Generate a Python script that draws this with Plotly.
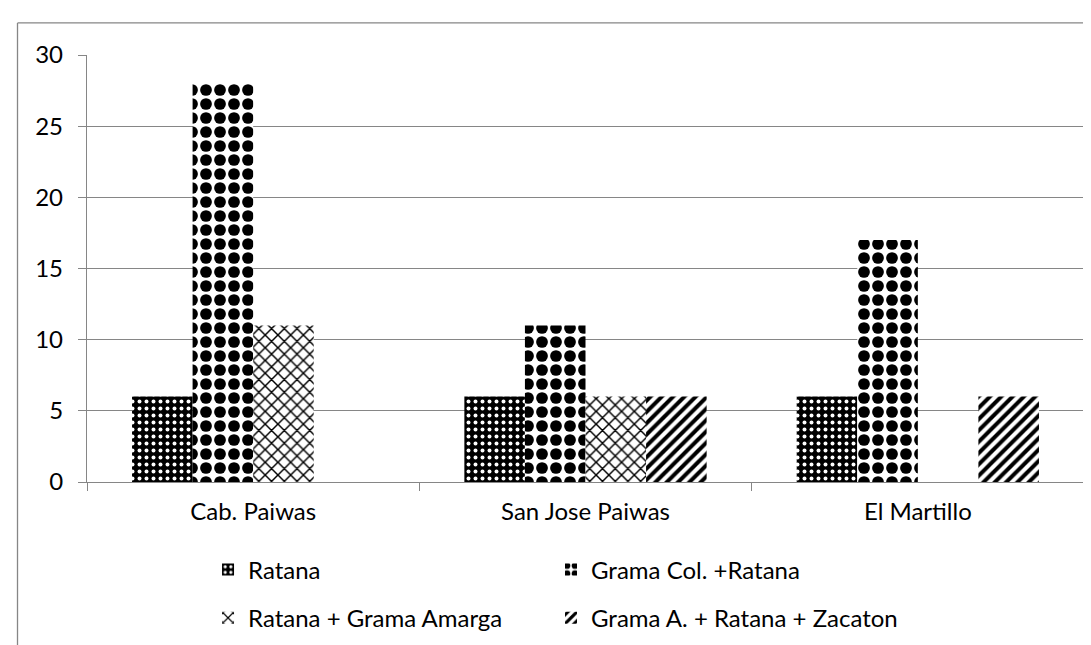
import plotly.graph_objects as go

categories = ["Cab. Paiwas", "San Jose Paiwas", "El Martillo"]
series_names = ["Ratana", "Grama Col. +Ratana", "Ratana + Grama Amarga", "Grama A. + Ratana + Zacaton"]
ratana = [6, 6, 6]
grama_col_ratana = [28, 11, 17]
ratana_grama_amarga = [11, 6, 0]
grama_ratana_zacaton = [0, 6, 6]
y_ticks = [0, 5, 10, 15, 20, 25, 30]

values = [ratana, grama_col_ratana, ratana_grama_amarga, grama_ratana_zacaton]
patterns = [
    dict(shape=".", fgcolor="white", bgcolor="black", size=7, solidity=0.25, fgopacity=1),
    dict(shape=".", fgcolor="black", bgcolor="white", size=14, solidity=0.55, fgopacity=1),
    dict(shape="x", fgcolor="black", bgcolor="white", size=9, solidity=0.3, fgopacity=1),
    dict(shape="/", fgcolor="black", bgcolor="white", size=8, solidity=0.5, fgopacity=1),
]
legend_ids = ["legend", "legend2", "legend3", "legend4"]

FONT = "Lato, 'Liberation Sans', sans-serif"
GRID = "#868686"

fig = go.Figure()
for name, vals, pat, lg in zip(series_names, values, patterns, legend_ids):
    fig.add_trace(go.Bar(
        name=name, x=categories, y=vals,
        marker=dict(color="black", pattern=pat, line=dict(width=0)),
        legend=lg, showlegend=True,
    ))

legend_style = dict(orientation="h", xanchor="left", yanchor="middle",
                    font=dict(size=24, family=FONT, color="black"), bgcolor="rgba(0,0,0,0)")
col_x = [0.1214, 0.4654]
row_y = [-0.206, -0.319]

fig.update_layout(
    width=1091, height=645,
    margin=dict(l=79, r=15, t=47, b=166),
    showlegend=True,
    paper_bgcolor="white", plot_bgcolor="white",
    barmode="group", bargap=0.271, bargroupgap=0,
    font=dict(family=FONT, size=24, color="black"),
    xaxis=dict(
        type="category", showgrid=False, showline=True, linecolor=GRID, linewidth=1.3,
        ticks="outside", tickson="boundaries", ticklen=8, tickcolor=GRID, tickwidth=1.3,
        ticklabelstandoff=8,
    ),
    yaxis=dict(
        range=[0, 30], tickvals=y_ticks, showgrid=True, gridcolor=GRID, gridwidth=1.3,
        showline=True, linecolor=GRID, linewidth=1.3, zeroline=False,
        ticks="outside", ticklen=8, tickcolor=GRID, tickwidth=1.3, ticklabelstandoff=10,
    ),
    legend=dict(x=col_x[0], y=row_y[0], **legend_style),
    legend2=dict(x=col_x[1], y=row_y[0], **legend_style),
    legend3=dict(x=col_x[0], y=row_y[1], **legend_style),
    legend4=dict(x=col_x[1], y=row_y[1], **legend_style),
    shapes=[
        dict(type="line", xref="paper", yref="paper", x0=-0.0697, x1=-0.0697, y0=1.0752, y1=-0.5,
             line=dict(color=GRID, width=1.3)),
        dict(type="line", xref="paper", yref="paper", x0=-0.0697, x1=1.1, y0=1.0752, y1=1.0752,
             line=dict(color=GRID, width=1.3)),
    ],
)

fig.write_html("out.html")
